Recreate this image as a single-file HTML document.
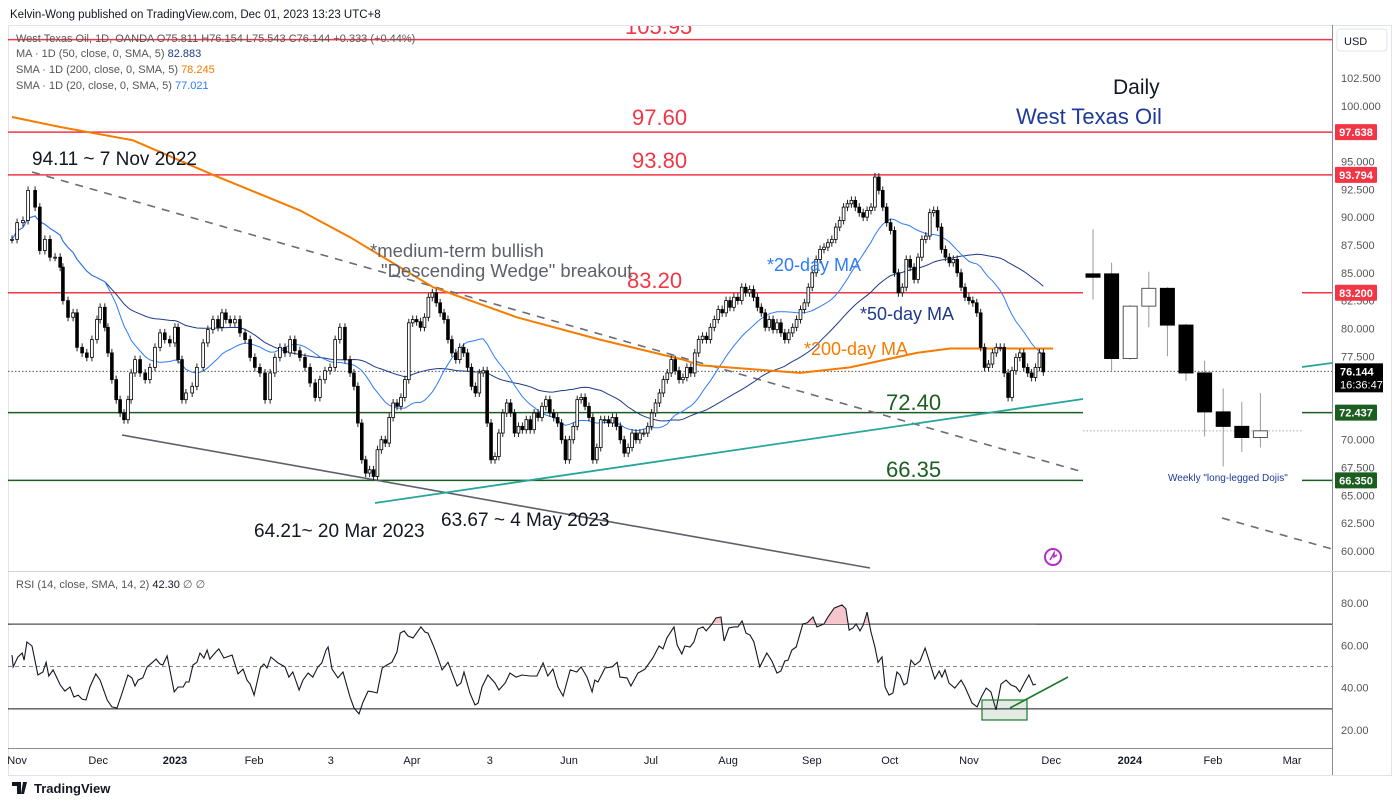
<!DOCTYPE html>
<html><head><meta charset="utf-8"><title>West Texas Oil Daily</title>
<style>
html,body{margin:0;padding:0;background:#fff;width:1400px;height:805px;overflow:hidden}
svg{display:block;font-family:"Liberation Sans",sans-serif}
</style></head><body>
<svg id="chart" width="1400" height="805" viewBox="0 0 1400 805" xmlns="http://www.w3.org/2000/svg">
<rect x="0" y="0" width="1400" height="805" fill="#fff"/>
<text x="10" y="18" font-size="11.5" fill="#131722">Kelvin-Wong published on TradingView.com, Dec 01, 2023 13:23 UTC+8</text>
<rect x="8.5" y="25.5" width="1383" height="750" fill="none" stroke="#e0e3eb"/>
<line x1="1332.5" y1="25" x2="1332.5" y2="775" stroke="#8a8d96" stroke-width="1"/>
<line x1="8" y1="571.5" x2="1391" y2="571.5" stroke="#d1d4dc"/>
<line x1="8" y1="748.5" x2="1332" y2="748.5" stroke="#8a8d96"/>
<g id="main"></g>
<g id="rsi"></g>
<g id="axis"></g>
<g id="ann"></g>
</svg>
<script>
// ---------- DATA ----------
// trading-day index (sparse sampling for Nov 2022 - Mar 2023, daily afterwards)
const closeDaysEarly = [0,1.3,2.8,4.1,5.9,7.1,8.4,9.7,11,12.3,13,14.3,15.6,16.6,17.9,19.1,20.4,21.7,22.5,23.7,24.5,25.5,26.6,27.6,28.6,29.6,30.4,31.4,32.7,34,35.2,36.5,37.8,39,40.3,41.6,42.4,43.4,44.4,46,47.2,48.8,50,51.3,52.6,53.6,54.6,55.7,56.9,58.2,59.5,60.8,62,63.3,64.6,65.9,67.1,68.4,69.7,71,72.2,73.5,74.8,76.1,77.4,78.6,79.9,81.2,82.5,83.7,85,86.3];
const closes = [88.0,89.5,89.7,92.4,90.9,87.0,88.0,86.4,86.4,85.5,82.5,81.0,81.4,78.3,77.8,77.4,79.0,80.8,81.9,80.1,77.8,75.4,73.6,72.4,71.8,73.6,76.0,77.2,76.0,75.4,76.5,78.3,79.6,79.0,78.7,80.1,77.2,73.6,74.2,74.8,76.5,78.7,79.9,80.8,80.1,81.4,80.8,80.5,80.8,79.6,79.0,77.4,76.5,76.0,73.6,76.0,77.4,78.3,77.8,79.0,78.0,77.4,76.5,75.1,73.8,75.4,76.2,76.5,79.0,80.1,77.2,76.0,
74.8,71.5,68.2,67.0,67.3,66.7,69.1,70.0,69.7,72.0,73.3,73.0,73.8,75.4,80.5,80.8,80.6,80.1,81.0,82.8,83.2,82.3,81.4,80.8,79.0,77.8,77.2,78.3,77.8,76.5,74.8,74.2,76.0,76.2,71.5,68.2,68.5,70.6,72.4,73.3,72.4,70.6,71.2,70.9,71.8,70.9,72.4,72.0,73.0,73.6,72.4,72.0,71.5,70.0,68.2,70.0,71.2,73.6,73.8,73.0,72.0,68.2,69.3,71.8,71.8,71.5,72.0,71.2,70.0,68.8,69.3,70.6,70.0,70.6,70.6,71.2,72.4,73.3,74.2,75.4,76.0,77.2,76.2,75.4,75.6,76.5,76.0,77.8,79.0,79.3,
79.0,80.1,80.8,81.7,81.4,82.5,81.9,82.8,82.5,83.7,83.2,83.5,82.8,81.9,81.4,80.1,80.8,79.9,80.5,79.6,79.0,79.6,80.1,80.8,81.7,82.3,83.7,85.0,86.2,87.1,87.3,87.7,88.0,89.1,89.7,90.9,91.2,91.5,90.9,90.4,90.0,90.6,90.9,93.6,92.4,90.9,89.5,88.8,85.0,83.2,83.7,86.2,85.5,84.4,86.4,88.0,88.3,90.4,90.6,89.1,87.1,86.4,85.9,86.2,85.0,83.7,82.8,82.5,82.3,81.4,78.3,76.5,76.8,77.8,78.3,78.3,76.0,73.8,76.2,77.4,77.8,76.5,76.0,75.6,76.5,77.8,76.1];
const ma200Days = [0,12.3,30.9,51.3,73.5,86.3,107.5,128.9,150.1,171.3,175.6,201.2,213.9,231.0,239.5,265.8];
const ma200Vals = [99.0,98.1,96.9,93.8,90.6,88.2,83.7,81.0,79.0,77.2,76.7,76.0,76.5,77.8,78.2,78.2];
const rsiDays = [0,0.3,1.5,2.6,3.1,3.8,5.1,6.6,7.9,8.7,9.4,10.5,12.3,13.5,14.8,15.8,16.9,17.9,18.9,19.9,21.4,22.5,24.3,25.5,26.8,28.1,29.6,30.6,31.4,32.2,33.4,34.5,35.7,36.8,37.8,38.5,39.6,41.4,42.4,43.7,44.4,45.2,46.2,47.2,48.0,49.0,49.8,50.5,51.8,52.8,54.1,56.2,57.7,59.0,60.0,60.8,61.8,63.4,64.3,65.1,66.1,67.9,69.7,70.7,71.7,73.3,74.3,75.6,76.8,78.1,79.1,80.2,80.7,81.7,83.2,84.5,86.3,87.3,88.6,89.6,90.9,92.2,93.2,94.5,95.7,97.0,98.3,99.1,100.1,101.1,102.4,104.4,105.4,106.2,107.5,108.5,109.8,111.3,113.6,114.6,115.4,116.9,118.2,119.0,120.0,121.5,123.3,124.3,125.9,127.1,128.7,130.2,
132.2,134.0,135.6,136.8,138.1,139.4,140.7,142.5,144.2,145.3,146.8,148.1,148.8,149.6,151.4,153.2,154.5,155.2,157.0,158.0,159.8,161.6,163.6,165.2,166.2,167.2,169.0,169.8,171.0,171.8,173.1,174.1,175.1,176.4,177.2,178.7,179.7,181.0,181.8,183.0,184.3,185.3,186.4,187.4,188.4,189.4,190.9,192.7,194.0,195.3,196.3,197.3,198.1,199.1,200.2,201.9,203.0,204.5,205.5,207.3,208.3,209.9,211.9,212.9,213.7,214.7,215.5,216.5,217.3,218.3,219.3,220.3,221.1,222.1,222.9,223.9,224.9,225.9,226.7,227.7,228.5,229.5,230.5,231.8,233.1,234.1,235.6,236.7,237.4,238.2,239.2,240.7,242.3,243.3,245.1,246.4,247.6,248.7,249.9,251.2,252.5,253.8,255.0,256.3,257.3,258.6,259.6,260.7,261.4];
const rsiVals = [55.4,49.8,54.5,56.4,53,61.6,59.7,46,47.4,52,45.5,48.4,41.3,38.4,40.3,35.6,36.5,34.6,34.2,40.3,46.5,43.6,34.2,30.9,30.4,37.5,46,44.6,40.8,43.6,44.6,49.8,51.7,53.5,51.2,50.7,55,38,40.3,40.3,42.7,42.7,50.7,52,56.4,54,57.8,53.5,56.4,58.3,54,55.4,46.5,48.8,43.6,41.7,36.5,49.3,51.2,49.3,54.5,51.7,49.8,45,47.4,38.9,43.6,46.9,45,49.8,51.7,57.8,59.2,48.8,44.6,47.4,35.6,30.4,27.6,33.2,38.4,38,37.5,49.3,50.7,52,56.9,65.8,66.8,64.4,63.5,68.7,66.3,65.8,60.2,55.4,48.4,52,40.8,42.2,47.4,37.5,31.8,32.7,40.3,46,42.2,38.9,42.2,46.9,45,46,
45.5,45.5,51.7,45.5,48.8,40.3,36,48.4,47.4,49.8,45,38,43.6,42.7,49.3,49.8,52,45,44.6,40.8,46.9,48.8,54,59.7,58.3,63.5,68.7,60.2,55.9,59.7,59.2,61.6,67.7,68.7,66.8,70.1,72.9,73.4,62,68.2,68.7,68.7,71.5,65.8,64.9,61.6,49.8,56.4,52.6,46.9,47.9,52.6,53,57.8,59.2,70.1,70.6,73.4,68.7,70.1,73.4,77.6,79.1,77.2,67.2,68.2,70.1,66.8,69.6,75.7,66.3,59.2,52,54.5,40.3,36.5,37.5,47.4,46,41.3,42.2,53,50.7,52.6,58.7,53,44.1,47.9,45,48.4,42.2,39.8,43.6,40.3,32.7,30.9,36,39.8,38,29.5,41.7,43.6,41.3,40.3,38,42.7,46,41.3,41.7];
// weekly inset candles
const wOpen  = [84.9,84.9,77.3,82.0,83.6,80.3,76.0,72.5,71.2,70.2];
const wHigh  = [88.9,85.9,82.1,85.1,83.7,80.4,77.1,74.6,73.4,74.2];
const wLow   = [82.6,76.2,77.2,80.1,77.5,75.3,70.3,67.6,68.9,69.3];
const wClose = [84.6,77.3,82.0,83.6,80.3,76.0,72.5,71.2,70.2,70.8];
const priceTicks = [102.5,100,97.5,95,92.5,90,87.5,85,82.5,80,77.5,75,72.5,70,67.5,65,62.5,60];
const rsiTicks = [80,60,40,20];
const timeLabels = ["Nov","Dec","2023","Feb","3","Apr","3","Jun","Jul","Aug","Sep","Oct","Nov","Dec","2024","Feb","Mar"];
const timeDays = [1.3,22,41.6,61.8,81.4,102.1,122,142.2,163.1,182.8,204.2,224.1,244.3,265.3,285.4,306.6,326.8];

// ---------- SCALES ----------
const NS="http://www.w3.org/2000/svg";
const xs = d => 12 + d*3.917;
const ys = p => 78 + (102.5-p)*11.13;
const yr = r => 603 + (80-r)*2.117;
const wx = w => 1093 + w*18.6;
function mk(tag, attrs, parent, txt){const e=document.createElementNS(NS,tag);for(const k in attrs)e.setAttribute(k,attrs[k]);if(txt!==undefined)e.textContent=txt;parent.appendChild(e);return e;}
const gMain=document.getElementById('main'), gR=document.getElementById('rsi'), gA=document.getElementById('axis'), gN=document.getElementById('ann');

const days = closes.map((c,i)=> i<closeDaysEarly.length ? closeDaysEarly[i] : closeDaysEarly[closeDaysEarly.length-1] + (i-closeDaysEarly.length+1));

// ---------- HORIZONTAL LEVELS ----------
function hline(p,color,name,x1,x2,w){const l=mk('line',{x1:x1,x2:x2,y1:ys(p),y2:ys(p),stroke:color,'stroke-width':w||1.5},gMain);

}
hline(105.95,'#f23645','level-105-95',8,1332);
hline(97.638,'#f23645','level-97-60',8,1332);
hline(93.794,'#f23645','level-93-80',8,1332);
hline(83.2,'#f23645','level-83-20',8,1083);
hline(83.2,'#f23645','level-83-20-right',1302,1332);
hline(72.437,'#1b5e20','level-72-40',8,1083);
hline(72.437,'#1b5e20','level-72-40-right',1302,1332);
hline(66.35,'#1b5e20','level-66-35',8,1083);
hline(66.35,'#1b5e20','level-66-35-right',1302,1332);
(function(){const l=mk('line',{x1:8,x2:1332,y1:ys(76.144),y2:ys(76.144),stroke:'#555',"stroke-width":1,"stroke-dasharray":"1.5 2"},gMain);


const l2=mk('line',{x1:1083,x2:1302,y1:ys(70.8),y2:ys(70.8),stroke:'#aaa',"stroke-width":1,"stroke-dasharray":"1.5 2"},gMain);

})();

// ---------- TRENDLINES ----------
function seg(x1,y1,x2,y2,color,w,dash,name,parent){const l=mk('line',{x1,y1,x2,y2,stroke:color,'stroke-width':w},parent||gMain);if(dash)l.setAttribute('stroke-dasharray',dash);

}
seg(32,172,1083,472,'#6a6d78',1.6,'8 7','wedge-upper-dashed-trendline');
seg(1222,518,1332,549,'#6a6d78',1.6,'8 7','wedge-upper-dashed-extension');
seg(122,435,870,568,'#5d606b',1.6,null,'wedge-lower-trendline');
seg(375,503,1083,399,'#26a69a',1.8,null,'rising-support-trendline');
seg(1302,367,1332,363,'#26a69a',1.8,null,'rising-support-extension');

// ---------- MOVING AVERAGES ----------
function smaPath(n){let pts=[];for(let i=0;i<closes.length;i++){const s=Math.max(0,i-n+1);let sum=0;for(let j=s;j<=i;j++)sum+=closes[j];pts.push(xs(days[i]).toFixed(1)+','+ys(sum/(i-s+1)).toFixed(1));}return 'M'+pts.join('L');}
(function(){
const p50=mk('path',{d:smaPath(50),fill:'none',stroke:'#1e3a8a','stroke-width':1},gMain);


const p20=mk('path',{d:smaPath(20),fill:'none',stroke:'#2f7df6','stroke-width':1},gMain);


const p200=mk('path',{d:'M'+ma200Days.map((d,i)=>xs(d).toFixed(1)+','+ys(ma200Vals[i]).toFixed(1)).join('L'),fill:'none',stroke:'#f57c00','stroke-width':2,'stroke-linejoin':'round'},gMain);


})();

// ---------- DAILY CANDLES ----------
for(let i=0;i<closes.length;i++){
  const o=i>0?closes[i-1]:closes[i], c=closes[i], x=xs(days[i]);
  const up=c>=o, top=ys(Math.max(o,c)), bot=ys(Math.min(o,c));
  const g=mk('g',{},gMain);
  
  
  mk('line',{x1:x,x2:x,y1:top-4,y2:bot+4,stroke:'#222','stroke-width':1},g);
  mk('rect',{x:x-1.4,y:top,width:2.8,height:Math.max(1,bot-top),fill:up?'#fff':'#000',stroke:'#000','stroke-width':0.8},g);
}

// ---------- WEEKLY CANDLES ----------
for(let w=0;w<wOpen.length;w++){
  const x=wx(w), o=wOpen[w], c=wClose[w], up=c>=o;
  const g=mk('g',{},gMain);
  
  
  mk('line',{x1:x,x2:x,y1:ys(wHigh[w]),y2:ys(wLow[w]),stroke:'#999','stroke-width':1},g);
  const t=ys(Math.max(o,c)), b=ys(Math.min(o,c));
  mk('rect',{x:x-7,y:t,width:14,height:Math.max(2,b-t),fill:up?'#fff':'#000',stroke:up?'#555':'#000','stroke-width':1},g);
}

// ---------- RSI ----------
(function(){
 const l70=mk('line',{x1:8,x2:1332,y1:yr(70),y2:yr(70),stroke:'#131722','stroke-width':1},gR);
 
 
 const l30=mk('line',{x1:8,x2:1332,y1:yr(30),y2:yr(30),stroke:'#131722','stroke-width':1},gR);
 
 
 const l50=mk('line',{x1:8,x2:1332,y1:yr(50),y2:yr(50),stroke:'#888','stroke-width':1,'stroke-dasharray':'4 3'},gR);
 
 
 const n=Math.min(rsiDays.length,rsiVals.length);
 const pts=[];for(let i=0;i<n;i++)pts.push(xs(rsiDays[i]).toFixed(1)+','+yr(rsiVals[i]).toFixed(1));
 const defs=mk('defs',{},gR);
 const cp=mk('clipPath',{id:'ob'},defs);
 mk('rect',{x:0,y:560,width:1400,height:yr(70)-560},cp);
 const fill=mk('path',{d:'M'+xs(rsiDays[0])+','+yr(70)+'L'+pts.join('L')+'L'+xs(rsiDays[n-1])+','+yr(70)+'Z',fill:'#f7c5cc','clip-path':'url(#ob)'},gR);
 
 
 const line=mk('path',{d:'M'+pts.join('L'),fill:'none',stroke:'#131722','stroke-width':1.1},gR);
 
 
})();
(function(){
 const b=mk('rect',{x:982,y:700,width:45,height:20,fill:'rgba(27,94,32,0.12)',stroke:'#1b7a2a','stroke-width':1.2},gR);
 
 
 seg(1010,708,1068,677,'#1b7a2a',1.6,null,'rsi-rising-trendline',gR);
})();

// ---------- AXES ----------
for(const p of priceTicks){const t=mk('text',{x:1341,y:ys(p)+4,'font-size':11,fill:'#555'},gA,p.toFixed(3));
 
 }
for(const r of rsiTicks){const t=mk('text',{x:1341,y:yr(r)+4,'font-size':11,fill:'#555'},gA,r.toFixed(2));
 
 }
timeLabels.forEach((lab,i)=>{const bold=/^\d{4}$/.test(lab);const t=mk('text',{x:xs(timeDays[i]),y:764,'font-size':11,fill:'#131722','text-anchor':'middle','font-weight':bold?'bold':'normal'},gA,lab);
 
 });
function priceBox(p,bg,txt,name){const y=ys(p);const g=mk('g',{},gA);
 
 
 mk('rect',{x:1335,y:y-8,width:42,height:16,fill:bg,rx:1},g);
 mk('text',{x:1356,y:y+4,'font-size':11,fill:'#fff','text-anchor':'middle','font-weight':'bold'},g,txt);}
priceBox(97.638,'#f23645','97.638','price-label-97-638');
priceBox(93.794,'#f23645','93.794','price-label-93-794');
priceBox(83.2,'#f23645','83.200','price-label-83-200');
priceBox(72.437,'#1b5e20','72.437','price-label-72-437');
priceBox(66.35,'#1b5e20','66.350','price-label-66-350');
(function(){const y=ys(76.144);const g=mk('g',{},gA);
 
 
 mk('rect',{x:1335,y:y-8,width:48,height:29,fill:'#000'},g);
 mk('text',{x:1340,y:y+4,'font-size':11,fill:'#fff','font-weight':'bold'},g,'76.144');
 mk('text',{x:1340,y:y+17,'font-size':11,fill:'#fff'},g,'16:36:47');})();
</script>
<!-- static annotations -->
<svg style="position:absolute;left:0;top:0" width="1400" height="805" viewBox="0 0 1400 805" xmlns="http://www.w3.org/2000/svg" font-family="Liberation Sans, sans-serif">
<defs><clipPath id="chartclip"><rect x="8" y="26" width="1324" height="545"/></clipPath></defs>
<g><rect x="1337" y="29" width="50" height="22" rx="3" fill="#fff" stroke="#e0e3eb"/><text x="1344" y="45" font-size="11" fill="#131722">USD</text></g>
<g font-size="11" fill="#555">
<text x="16" y="42">West Texas Oil, 1D, OANDA  O75.811  H76.154  L75.543  C76.144  +0.333 (+0.44%)</text>
<text x="16" y="57">MA · 1D (50, close, 0, SMA, 5)  <tspan fill="#1e3a8a">82.883</tspan></text>
<text x="16" y="73">SMA · 1D (200, close, 0, SMA, 5)  <tspan fill="#f57c00">78.245</tspan></text>
<text x="16" y="89">SMA · 1D (20, close, 0, SMA, 5)  <tspan fill="#2f7df6">77.021</tspan></text>
</g>
<text x="16" y="588" font-size="11" fill="#555">RSI (14, close, SMA, 14, 2)  <tspan fill="#131722">42.30</tspan>  ∅  ∅</text>
<text x="625" y="34" font-size="22" fill="#f23645" clip-path="url(#chartclip)">105.95</text>
<text x="632" y="125" font-size="22" fill="#f23645">97.60</text>
<text x="632" y="168" font-size="22" fill="#f23645">93.80</text>
<text x="627" y="288" font-size="22" fill="#f23645">83.20</text>
<text x="886" y="410" font-size="22" fill="#1b5e20">72.40</text>
<text x="886" y="477" font-size="22" fill="#1b5e20">66.35</text>
<text x="32" y="165" font-size="19" fill="#131722">94.11 ~ 7 Nov 2022</text>
<text x="254" y="537" font-size="19" fill="#131722">64.21~ 20 Mar 2023</text>
<text x="441" y="526" font-size="19" fill="#131722">63.67 ~ 4 May 2023</text>
<text x="370" y="257" font-size="18.5" fill="#5d606b">*medium-term bullish</text>
<text x="381" y="277" font-size="18.5" fill="#5d606b">"Descending Wedge" breakout</text>
<text x="767" y="271" font-size="18" fill="#2f7df6">*20-day MA</text>
<text x="860" y="320" font-size="18" fill="#1e3a8a">*50-day MA</text>
<text x="804" y="355" font-size="18" fill="#f57c00">*200-day MA</text>
<text x="1113" y="94" font-size="21" fill="#131722">Daily</text>
<text x="1016" y="124" font-size="22" fill="#1e3a9a">West Texas Oil</text>
<text x="1168" y="481" font-size="10" fill="#1e3a9a">Weekly "long-legged Dojis"</text>
<g><circle cx="1053" cy="557" r="8" fill="#fff" stroke="#b32ac9" stroke-width="2"/><path d="M1050 560 L1054 553 L1054 557 L1057 555" stroke="#b32ac9" stroke-width="1.5" fill="none"/></g>
<g><path d="M12 782 h9 v12 h-4 v-8 h-5z M23 782 h4 l-3 12 h-3z" fill="#131722"/><text x="34" y="793" font-size="13" font-weight="bold" fill="#131722">TradingView</text></g>
</svg>
</body></html>
